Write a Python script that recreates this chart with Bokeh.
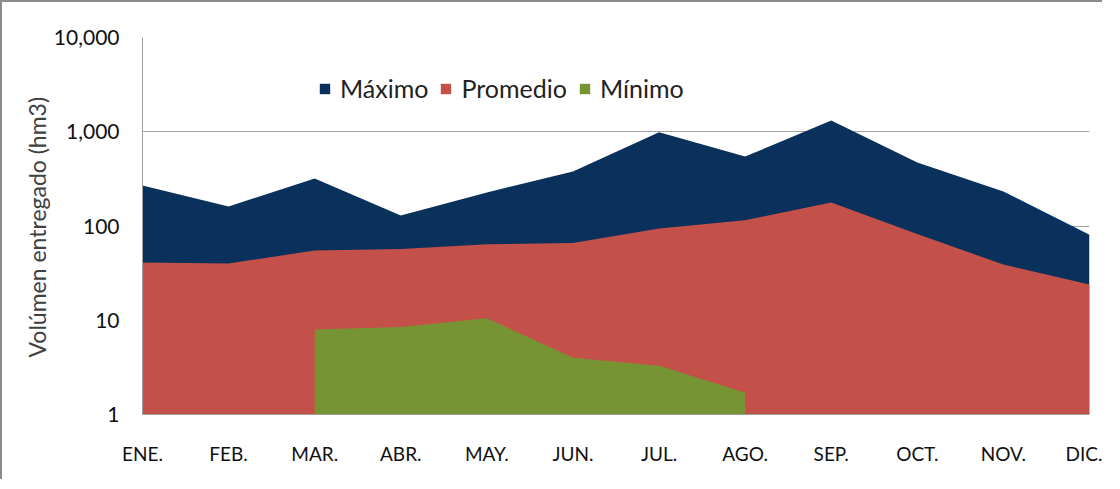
from bokeh.plotting import figure
from bokeh.models import FixedTicker, NumeralTickFormatter, Legend, LegendItem, Range1d, Title
from bokeh.embed import file_html
from bokeh.resources import INLINE

months = ["ENE.", "FEB.", "MAR.", "ABR.", "MAY.", "JUN.", "JUL.", "AGO.", "SEP.", "OCT.", "NOV.", "DIC."]
maximo = [269, 161, 319, 129, 227, 379, 990, 546, 1316, 472, 232, 81]
promedio = [41, 40, 55, 57, 64, 66, 94, 115, 178, 82, 39, 24]
min_months = ["MAR.", "ABR.", "MAY.", "JUN.", "JUL.", "AGO."]
minimo = [8.0, 8.5, 10.5, 4.0, 3.3, 1.7]
y_ticks = [1, 10, 100, 1000, 10000]

FONT = "Lato"
x_all = list(range(len(months)))
x_min = [months.index(m) for m in min_months]

p = figure(width=1102, height=479, y_axis_type="log", output_backend="svg",
           toolbar_location=None, x_range=Range1d(0, len(months) - 1),
           y_range=Range1d(1, 10000),
           min_border_left=140, min_border_top=35, min_border_right=15, min_border_bottom=67,
           styles={"border-top": "2px solid #8c8c8c", "border-left": "2px solid #8c8c8c"})

r_max = p.varea(x=x_all, y1=[1] * len(x_all), y2=maximo, fill_color="#0a305c")
r_prom = p.varea(x=x_all, y1=[1] * len(x_all), y2=promedio, fill_color="#c4504a")
r_min = p.varea(x=x_min, y1=[1] * len(x_min), y2=minimo, fill_color="#779435")

p.outline_line_color = None
p.background_fill_color = "white"
p.border_fill_color = "white"

# y axis
p.yaxis.ticker = FixedTicker(ticks=y_ticks, minor_ticks=[])
p.yaxis.formatter = NumeralTickFormatter(format="0,0")
p.yaxis.major_tick_line_color = None
p.yaxis.minor_tick_line_color = None
p.yaxis.axis_line_color = "#a0a0a0"
p.yaxis.major_label_text_font = FONT
p.yaxis.major_label_text_font_size = "21px"
p.yaxis.major_label_text_color = "#111111"
p.yaxis.major_label_standoff = 17

ytitle = Title(text="Volúmen entregado (hm3)", align="left", offset=57, standoff=0,
               text_font=FONT, text_font_size="23px", text_font_style="normal",
               text_color="#404040")
p.add_layout(ytitle, "left")

# x axis
p.xaxis.ticker = FixedTicker(ticks=x_all)
p.xaxis.major_label_overrides = {i: m for i, m in enumerate(months)}
p.xaxis.major_tick_line_color = None
p.xaxis.minor_tick_line_color = None
p.xaxis.axis_line_color = "#a0a0a0"
p.xaxis.major_label_text_font = FONT
p.xaxis.major_label_text_font_size = "19px"
p.xaxis.major_label_text_color = "#111111"
p.xaxis.major_label_standoff = 21

p.xgrid.grid_line_color = None
p.ygrid.grid_line_color = "#a0a0a0"
p.ygrid.grid_line_width = 1
p.ygrid.minor_grid_line_color = None

legend = Legend(items=[LegendItem(label="Máximo", renderers=[r_max]),
                       LegendItem(label="Promedio", renderers=[r_prom]),
                       LegendItem(label="Mínimo", renderers=[r_min])],
                orientation="horizontal", location=(176, 311),
                label_text_font=FONT, label_text_font_size="25px",
                label_text_color="#222222",
                glyph_width=13, glyph_height=13, spacing=11, label_standoff=9,
                border_line_color=None, background_fill_alpha=0,
                padding=0, margin=0)
p.add_layout(legend, "center")

open("out.html", "w").write(file_html(p, INLINE))
